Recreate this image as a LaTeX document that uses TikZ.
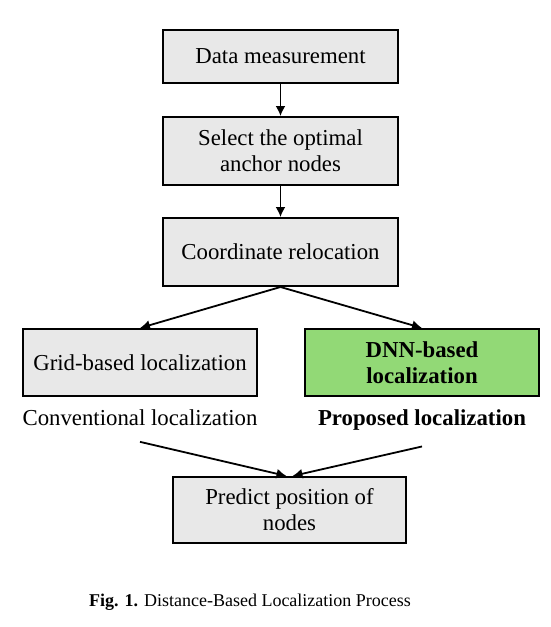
\documentclass[tikz,border=0pt]{standalone}
\usepackage{fontspec}
\setmainfont{Liberation Serif}
\usepackage{xcolor}
\usetikzlibrary{arrows.meta,positioning}
\definecolor{stepgray}{RGB}{232,232,232}
\definecolor{dnngreen}{RGB}{146,217,118}

\begin{document}
\begin{tikzpicture}[
    block/.style={rectangle, draw=black, line width=1pt, fill=stepgray,
        minimum width=117.5pt, minimum height=34pt, inner sep=2pt,
        align=center, font=\fontsize{11.4}{13}\selectfont},
    label/.style={inner sep=1pt, font=\fontsize{11.4}{13}\selectfont},
    arrow/.style={-{Latex[length=5pt,width=5pt]}, line width=0.9pt, draw=black}]
\useasboundingbox (-140.25pt,28.25pt) rectangle (135.25pt,-285.25pt);
\node[block, minimum height=26.5pt] (meas) at (0,0) {Data measurement};
\node[block, below=16pt of meas]   (anchor) {Select the optimal\\anchor nodes};
\node[block, below=15.5pt of anchor] (reloc) {Coordinate relocation};
\node[block, minimum width=117pt, minimum height=33.5pt,
      below left=20.5pt and 11.25pt of reloc.south, anchor=north east] (grid) {Grid-based localization};
\node[block, minimum width=117pt, minimum height=33.5pt, fill=dnngreen, font=\fontsize{11.4}{13}\selectfont\bfseries,
      below right=20.5pt and 11.75pt of reloc.south, anchor=north west] (dnn) {DNN-based\\localization};
\node[label, below=5pt of grid]   (conv) {Conventional localization};
\node[label, below=5pt of dnn, font=\fontsize{11.4}{13}\selectfont\bfseries] (prop) {Proposed localization};
\node[block, minimum width=116.5pt, minimum height=33pt,
      below=94.5pt of reloc, xshift=4.5pt] (pred) {Predict position of\\nodes};
\node[below=25pt of pred, xshift=-19.75pt, inner sep=0pt, font=\fontsize{9}{11}\selectfont]
      (cap) {\textbf{Fig. 1.} Distance-Based Localization Process};

\draw[arrow] (meas) -- (anchor);
\draw[arrow] (anchor) -- (reloc);
\draw[arrow] (reloc.south) -- (grid.north);
\draw[arrow] (reloc.south) -- (dnn.north);
\draw[arrow] ([yshift=-7pt]conv.south) -- ([xshift=-1.5pt]pred.north);
\draw[arrow] ([yshift=-7pt]prop.south) -- ([xshift=1.5pt]pred.north);
\end{tikzpicture}
\end{document}
